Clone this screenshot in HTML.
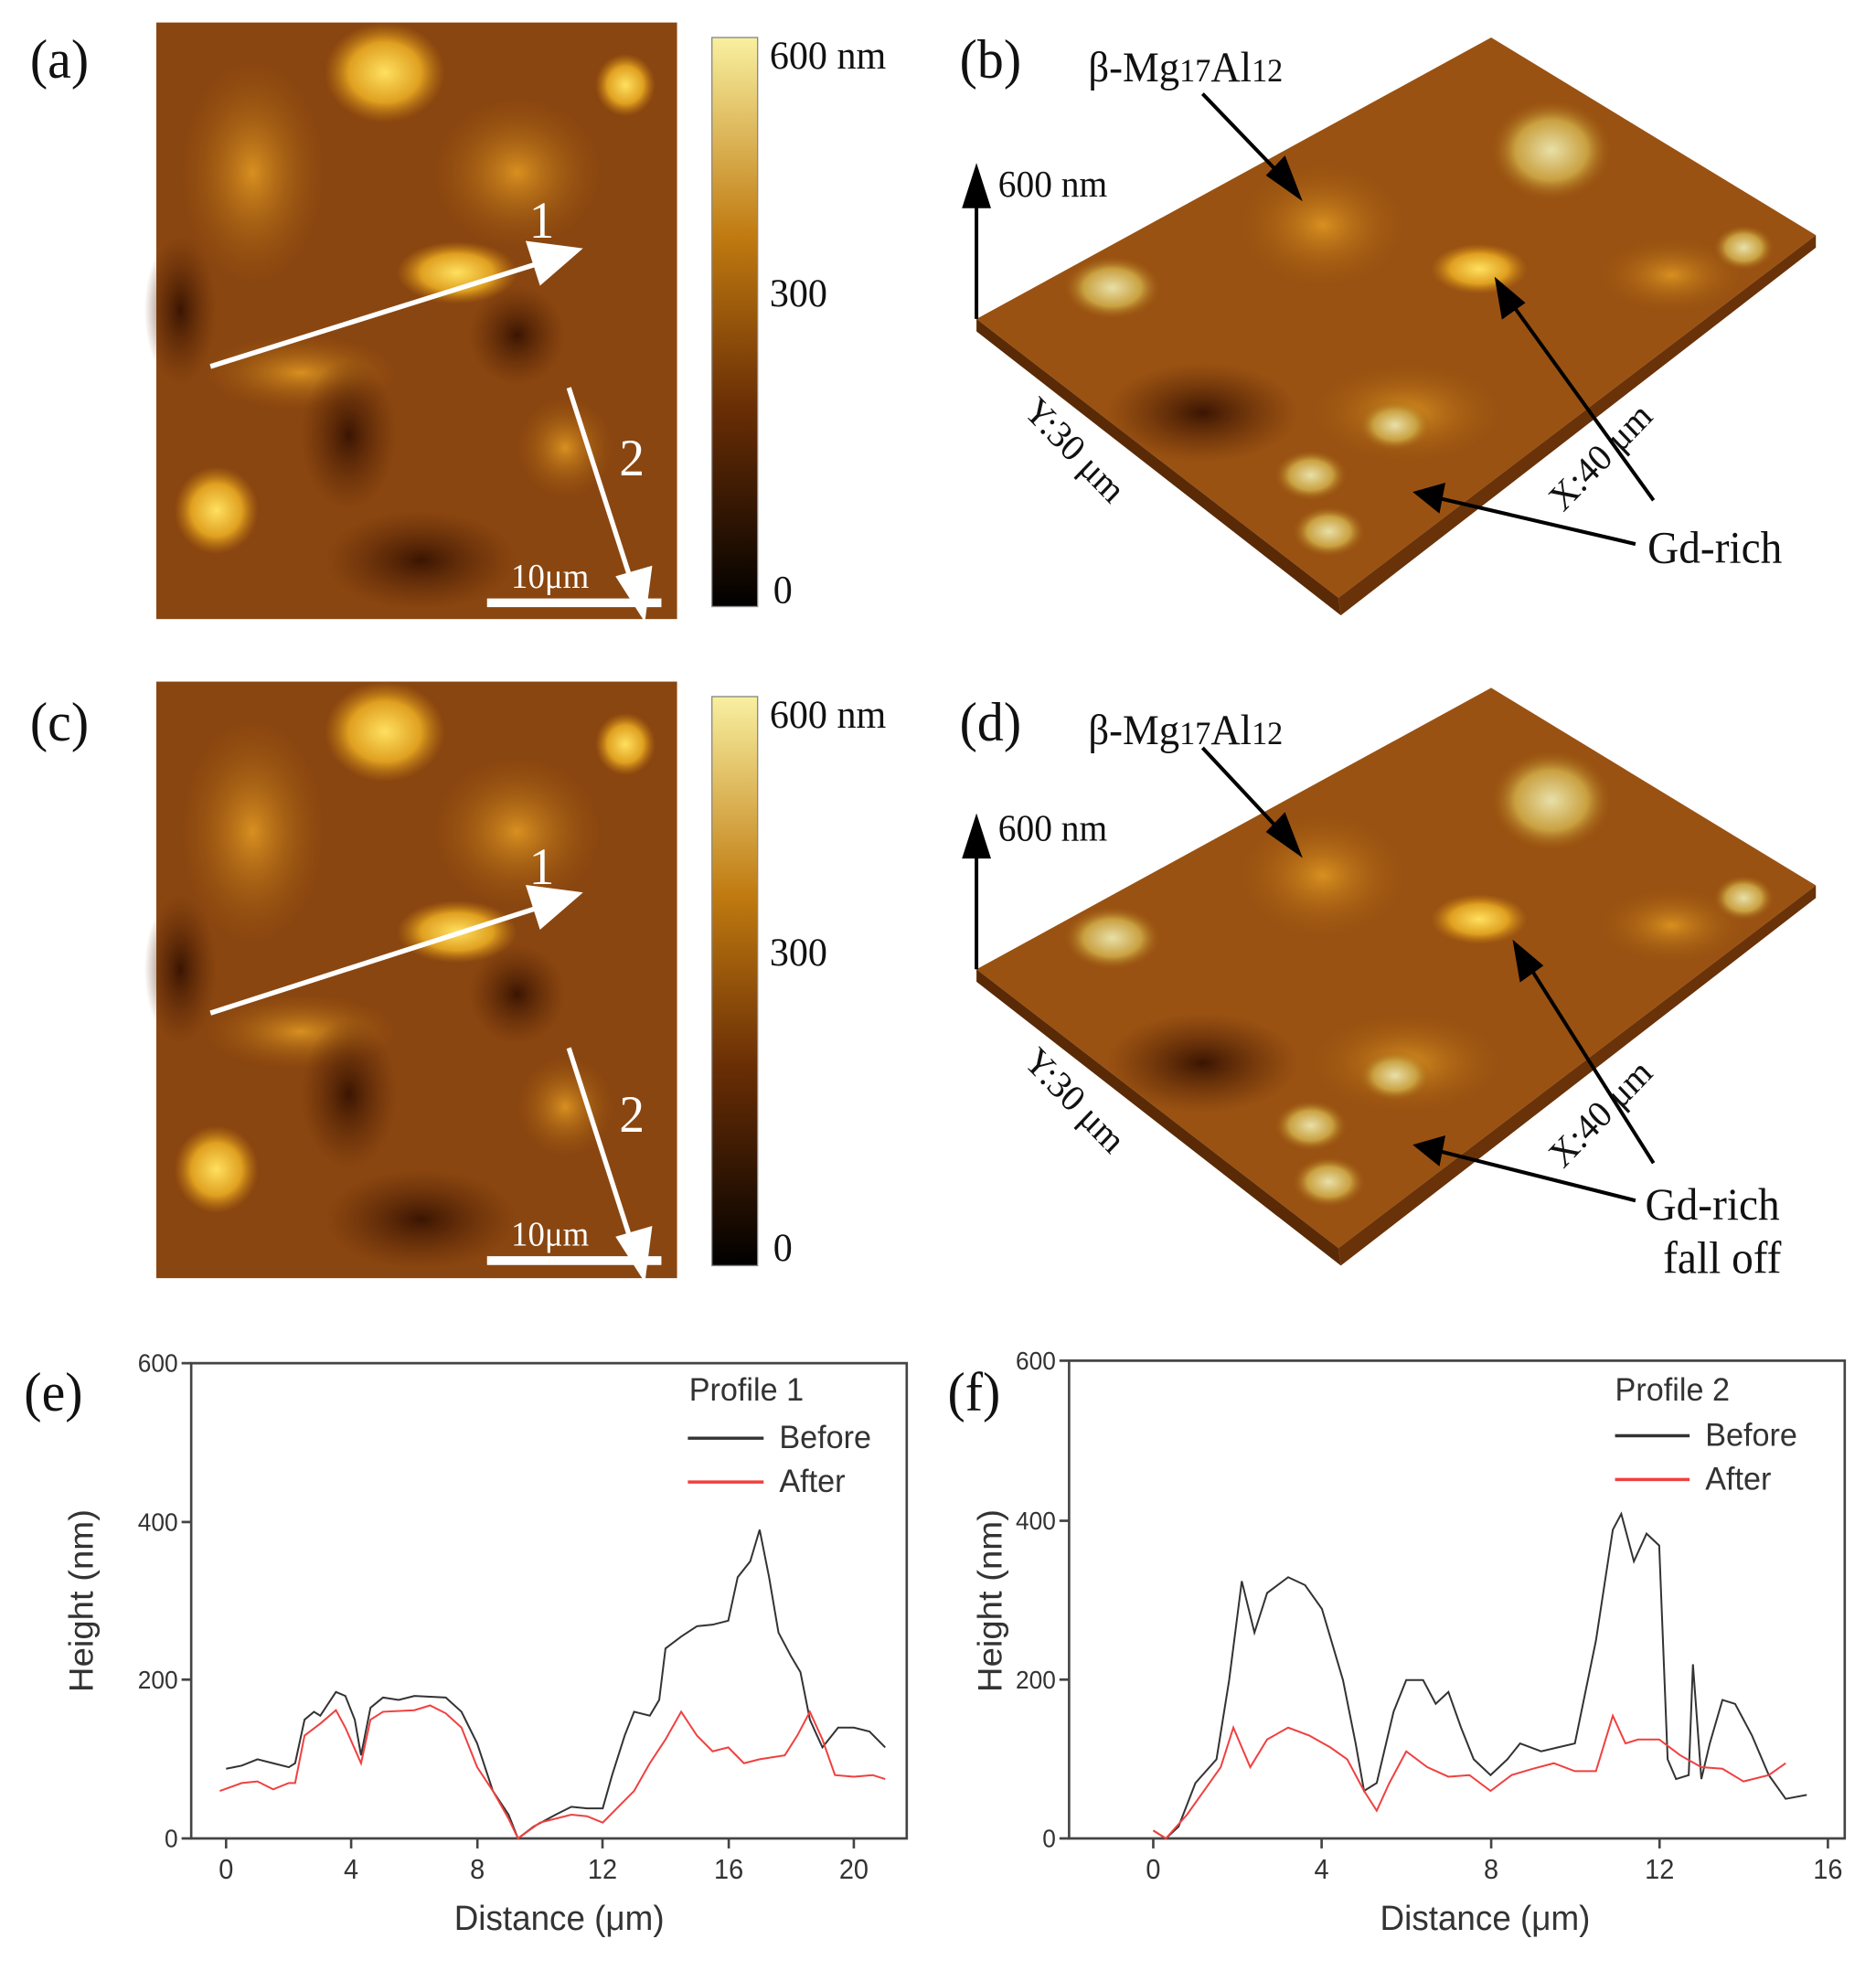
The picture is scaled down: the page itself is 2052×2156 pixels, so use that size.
<!DOCTYPE html>
<html><head><meta charset="utf-8"><style>
html,body{margin:0;padding:0;background:#fff}
svg{display:block}
.lab{font-family:"Liberation Serif",serif;font-size:44px;fill:#111}
.ser{font-family:"Liberation Serif",serif;fill:#111}
.san{font-family:"Liberation Sans",sans-serif;fill:#333}
</style></head><body>
<svg width="2052" height="2156" viewBox="0 0 1560 1576" preserveAspectRatio="none" xmlns="http://www.w3.org/2000/svg">
<defs>
<linearGradient id="cb" x1="0" y1="1" x2="0" y2="0">
<stop offset="0" stop-color="#000"/><stop offset="0.35" stop-color="#6a2e05"/><stop offset="0.65" stop-color="#c07a10"/><stop offset="1" stop-color="#f8f0a0"/></linearGradient>
<radialGradient id="blob"><stop offset="0" stop-color="#ffe060"/><stop offset="0.6" stop-color="#e0a020"/><stop offset="1" stop-color="#c07a10" stop-opacity="0"/></radialGradient>
<radialGradient id="blob2"><stop offset="0" stop-color="#d89020"/><stop offset="1" stop-color="#a05a10" stop-opacity="0"/></radialGradient>
<radialGradient id="dark"><stop offset="0" stop-color="#3a1502"/><stop offset="1" stop-color="#5a2506" stop-opacity="0"/></radialGradient>
<radialGradient id="pk"><stop offset="0" stop-color="#e8e0a8"/><stop offset="0.6" stop-color="#c9a040"/><stop offset="1" stop-color="#a06010" stop-opacity="0"/></radialGradient>
<g id="afm">
<rect x="0" y="0" width="433" height="477" fill="#8a4610"/>
<ellipse cx="80" cy="120" rx="60" ry="90" fill="url(#blob2)"/>
<ellipse cx="300" cy="120" rx="70" ry="60" fill="url(#blob2)"/>
<ellipse cx="190" cy="40" rx="50" ry="40" fill="url(#blob)"/>
<ellipse cx="250" cy="200" rx="50" ry="25" fill="url(#blob)"/>
<ellipse cx="120" cy="280" rx="80" ry="30" fill="url(#blob2)"/>
<ellipse cx="50" cy="390" rx="35" ry="35" fill="url(#blob)"/>
<ellipse cx="340" cy="340" rx="40" ry="40" fill="url(#blob2)"/>
<ellipse cx="390" cy="50" rx="25" ry="25" fill="url(#blob)"/>
<ellipse cx="20" cy="230" rx="30" ry="60" fill="url(#dark)"/>
<ellipse cx="220" cy="430" rx="80" ry="40" fill="url(#dark)"/>
<ellipse cx="300" cy="250" rx="40" ry="40" fill="url(#dark)"/>
<ellipse cx="160" cy="330" rx="40" ry="60" fill="url(#dark)"/>
</g>
<g id="surf">
<polygon points="812,255 1240,30 1510,188 1113,478" fill="#9a5212"/>
<polygon points="812,255 1113,478 1115,492 812,265" fill="#5a2a06"/>
<polygon points="1113,478 1510,188 1510,198 1115,492" fill="#6a3208"/>
<ellipse cx="1100" cy="180" rx="70" ry="50" fill="url(#blob2)"/>
<ellipse cx="1290" cy="120" rx="50" ry="40" fill="url(#pk)"/>
<ellipse cx="925" cy="230" rx="40" ry="25" fill="url(#pk)"/>
<ellipse cx="1230" cy="215" rx="40" ry="20" fill="url(#blob)"/>
<ellipse cx="1390" cy="220" rx="60" ry="30" fill="url(#blob2)"/>
<ellipse cx="1170" cy="330" rx="80" ry="40" fill="url(#blob2)"/>
<ellipse cx="1160" cy="340" rx="30" ry="20" fill="url(#pk)"/>
<ellipse cx="1090" cy="380" rx="30" ry="20" fill="url(#pk)"/>
<ellipse cx="1105" cy="425" rx="30" ry="20" fill="url(#pk)"/>
<ellipse cx="1450" cy="198" rx="25" ry="18" fill="url(#pk)"/>
<ellipse cx="1000" cy="330" rx="80" ry="40" fill="url(#dark)"/>
</g>
</defs>

<!-- (a) -->
<text class="lab" x="25" y="62">(a)</text>
<g transform="translate(130,18)"><use href="#afm"/></g>
<g stroke="#fff" stroke-width="4" fill="#fff">
<line x1="175" y1="293" x2="450" y2="210"/><polygon points="480,200 440,195 450,225"/>
<line x1="473" y1="310" x2="525" y2="465"/><polygon points="535,492 515,462 540,455"/>
<line x1="405" y1="482" x2="550" y2="482" stroke-width="7"/>
</g>
<text class="ser" x="440" y="190" font-size="42" style="fill:#fff">1</text>
<text class="ser" x="515" y="380" font-size="42" style="fill:#fff">2</text>
<text class="ser" x="425" y="470" font-size="28" style="fill:#fff">10μm</text>
<rect x="592" y="30" width="38" height="455" fill="url(#cb)" stroke="#888"/>
<text class="ser" x="640" y="55" font-size="32">600 nm</text>
<text class="ser" x="640" y="245" font-size="32">300</text>
<text class="ser" x="643" y="482" font-size="32">0</text>

<!-- (b) -->
<text class="lab" x="798" y="62">(b)</text>
<use href="#surf"/>
<g stroke="#000" stroke-width="3" fill="#000">
<line x1="812" y1="255" x2="812" y2="160"/><polygon points="812,135 802,165 822,165"/>
<line x1="1000" y1="75" x2="1070" y2="145"/><polygon points="1080,157 1055,140 1068,127"/>
<line x1="1375" y1="400" x2="1255" y2="240"/><polygon points="1245,225 1250,253 1266,242"/>
<line x1="1360" y1="435" x2="1195" y2="398"/><polygon points="1178,394 1200,388 1196,408"/>
</g>
<text class="ser" x="905" y="65" font-size="34">β-Mg<tspan font-size="26">17</tspan>Al<tspan font-size="26">12</tspan></text>
<text class="ser" x="830" y="157" font-size="30">600 nm</text>
<text class="ser" x="1370" y="450" font-size="36">Gd-rich</text>
<text class="ser" font-size="30" transform="translate(850,330) rotate(45)">Y:30 μm</text>
<text class="ser" font-size="30" transform="translate(1300,410) rotate(-45)">X:40 μm</text>

<!-- (c) -->
<text class="lab" x="25" y="592">(c)</text>
<g transform="translate(130,545)"><use href="#afm"/></g>
<g stroke="#fff" stroke-width="4" fill="#fff">
<line x1="175" y1="810" x2="450" y2="725"/><polygon points="480,715 440,710 450,740"/>
<line x1="473" y1="838" x2="525" y2="993"/><polygon points="535,1020 515,990 540,983"/>
<line x1="405" y1="1008" x2="550" y2="1008" stroke-width="7"/>
</g>
<text class="ser" x="440" y="707" font-size="42" style="fill:#fff">1</text>
<text class="ser" x="515" y="905" font-size="42" style="fill:#fff">2</text>
<text class="ser" x="425" y="996" font-size="28" style="fill:#fff">10μm</text>
<rect x="592" y="557" width="38" height="455" fill="url(#cb)" stroke="#888"/>
<text class="ser" x="640" y="582" font-size="32">600 nm</text>
<text class="ser" x="640" y="772" font-size="32">300</text>
<text class="ser" x="643" y="1008" font-size="32">0</text>

<!-- (d) -->
<text class="lab" x="798" y="592">(d)</text>
<g transform="translate(0,520)"><use href="#surf"/></g>
<g stroke="#000" stroke-width="3" fill="#000">
<line x1="812" y1="775" x2="812" y2="680"/><polygon points="812,655 802,685 822,685"/>
<line x1="1000" y1="598" x2="1070" y2="670"/><polygon points="1080,682 1055,665 1068,652"/>
<line x1="1375" y1="930" x2="1270" y2="770"/><polygon points="1260,755 1265,783 1281,772"/>
<line x1="1360" y1="960" x2="1195" y2="920"/><polygon points="1178,916 1200,910 1196,930"/>
</g>
<text class="ser" x="905" y="595" font-size="34">β-Mg<tspan font-size="26">17</tspan>Al<tspan font-size="26">12</tspan></text>
<text class="ser" x="830" y="672" font-size="30">600 nm</text>
<text class="ser" x="1368" y="975" font-size="36">Gd-rich</text>
<text class="ser" x="1383" y="1018" font-size="36">fall off</text>
<text class="ser" font-size="30" transform="translate(850,850) rotate(45)">Y:30 μm</text>
<text class="ser" font-size="30" transform="translate(1300,935) rotate(-45)">X:40 μm</text>

<!-- (e) -->
<text class="lab" x="20" y="1128">(e)</text>
<rect x="159" y="1090" width="595" height="380" fill="none" stroke="#444" stroke-width="2"/>
<g stroke="#444" stroke-width="2">
<line x1="188" y1="1470" x2="188" y2="1478"/><line x1="292" y1="1470" x2="292" y2="1478"/><line x1="397" y1="1470" x2="397" y2="1478"/><line x1="501" y1="1470" x2="501" y2="1478"/><line x1="606" y1="1470" x2="606" y2="1478"/><line x1="710" y1="1470" x2="710" y2="1478"/>
<line x1="151" y1="1470" x2="159" y2="1470"/><line x1="151" y1="1343" x2="159" y2="1343"/><line x1="151" y1="1217" x2="159" y2="1217"/><line x1="151" y1="1090" x2="159" y2="1090"/>
</g>
<g class="san" font-size="22" text-anchor="middle">
<text x="188" y="1502">0</text><text x="292" y="1502">4</text><text x="397" y="1502">8</text><text x="501" y="1502">12</text><text x="606" y="1502">16</text><text x="710" y="1502">20</text>
</g>
<g class="san" font-size="20" text-anchor="end">
<text x="148" y="1477">0</text><text x="148" y="1350">200</text><text x="148" y="1224">400</text><text x="148" y="1097">600</text>
</g>
<text class="san" x="465" y="1543" font-size="28" text-anchor="middle">Distance (μm)</text>
<text class="san" font-size="28" text-anchor="middle" transform="translate(77,1280) rotate(-90)">Height (nm)</text>
<text class="san" x="573" y="1120" font-size="26">Profile 1</text>
<line x1="572" y1="1150" x2="635" y2="1150" stroke="#333" stroke-width="2.5"/><text class="san" x="648" y="1158" font-size="26">Before</text>
<line x1="572" y1="1185" x2="635" y2="1185" stroke="#f04040" stroke-width="2.5"/><text class="san" x="648" y="1193" font-size="26">After</text>
<g transform="translate(188,1470) scale(26.1,-0.633)" fill="none">
<polyline vector-effect="non-scaling-stroke" stroke-width="2" stroke="#333" points="0,88 0.5,92 1,100 1.5,95 2,90 2.2,95 2.5,150 2.8,160 3,155 3.5,185 3.8,180 4.1,150 4.3,105 4.6,165 5,178 5.5,175 6,180 7,178 7.5,160 8,120 8.5,60 9,30 9.3,0 9.8,15 10.5,30 11,40 11.5,38 12,38 12.3,80 12.7,130 13,160 13.5,155 13.8,175 14,240 14.5,255 15,268 15.5,270 16,275 16.3,330 16.7,350 17,390 17.3,330 17.6,260 18,230 18.3,210 18.6,150 19,115 19.5,140 20,140 20.5,135 21,115"/>
<polyline vector-effect="non-scaling-stroke" stroke-width="2" stroke="#f04040" points="-0.2,60 0.5,70 1,72 1.5,62 2,70 2.2,70 2.5,130 3,145 3.5,162 3.8,140 4.3,95 4.6,150 5,160 6,162 6.5,168 7,158 7.5,140 8,90 8.5,60 9,25 9.3,0 10,20 11,30 11.5,28 12,20 12.5,40 13,60 13.5,95 14,125 14.5,160 15,130 15.5,110 16,115 16.5,95 17,100 17.8,105 18.2,130 18.6,160 19,125 19.4,80 20,78 20.6,80 21,75"/>
</g>

<!-- (f) -->
<text class="lab" x="788" y="1128">(f)</text>
<rect x="889" y="1088" width="645" height="382" fill="none" stroke="#444" stroke-width="2"/>
<g stroke="#444" stroke-width="2">
<line x1="959" y1="1470" x2="959" y2="1478"/><line x1="1099" y1="1470" x2="1099" y2="1478"/><line x1="1240" y1="1470" x2="1240" y2="1478"/><line x1="1380" y1="1470" x2="1380" y2="1478"/><line x1="1520" y1="1470" x2="1520" y2="1478"/>
<line x1="881" y1="1470" x2="889" y2="1470"/><line x1="881" y1="1343" x2="889" y2="1343"/><line x1="881" y1="1216" x2="889" y2="1216"/><line x1="881" y1="1088" x2="889" y2="1088"/>
</g>
<g class="san" font-size="22" text-anchor="middle">
<text x="959" y="1502">0</text><text x="1099" y="1502">4</text><text x="1240" y="1502">8</text><text x="1380" y="1502">12</text><text x="1520" y="1502">16</text>
</g>
<g class="san" font-size="20" text-anchor="end">
<text x="878" y="1477">0</text><text x="878" y="1350">200</text><text x="878" y="1223">400</text><text x="878" y="1095">600</text>
</g>
<text class="san" x="1235" y="1543" font-size="28" text-anchor="middle">Distance (μm)</text>
<text class="san" font-size="28" text-anchor="middle" transform="translate(833,1280) rotate(-90)">Height (nm)</text>
<text class="san" x="1343" y="1120" font-size="26">Profile 2</text>
<line x1="1343" y1="1148" x2="1405" y2="1148" stroke="#333" stroke-width="2.5"/><text class="san" x="1418" y="1156" font-size="26">Before</text>
<line x1="1343" y1="1183" x2="1405" y2="1183" stroke="#f04040" stroke-width="2.5"/><text class="san" x="1418" y="1191" font-size="26">After</text>
<g transform="translate(959,1470) scale(35.06,-0.633)" fill="none">
<polyline vector-effect="non-scaling-stroke" stroke-width="2" stroke="#333" points="0,10 0.3,0 0.6,15 1,70 1.5,100 1.8,200 2.1,325 2.4,260 2.7,310 3.2,330 3.6,320 4,290 4.5,200 4.8,120 5,60 5.3,70 5.7,160 6,200 6.4,200 6.7,170 7,185 7.3,140 7.6,100 8,80 8.4,100 8.7,120 9.2,110 9.6,115 10,120 10.5,250 10.9,390 11.1,410 11.4,350 11.7,385 12,370 12.2,100 12.4,75 12.7,80 12.8,220 13,75 13.2,120 13.5,175 13.8,170 14.2,130 14.6,80 15,50 15.5,55"/>
<polyline vector-effect="non-scaling-stroke" stroke-width="2" stroke="#f04040" points="0,10 0.3,0 0.8,30 1.2,60 1.6,90 1.9,140 2.3,90 2.7,125 3.2,140 3.7,130 4.2,115 4.6,100 5,60 5.3,35 5.6,70 6,110 6.5,90 7,78 7.5,80 8,60 8.5,80 9,88 9.5,95 10,85 10.5,85 10.9,155 11.2,120 11.5,125 12,125 12.5,105 13,90 13.5,88 14,72 14.6,80 15,95"/>
</g>
</svg>
</body></html>
